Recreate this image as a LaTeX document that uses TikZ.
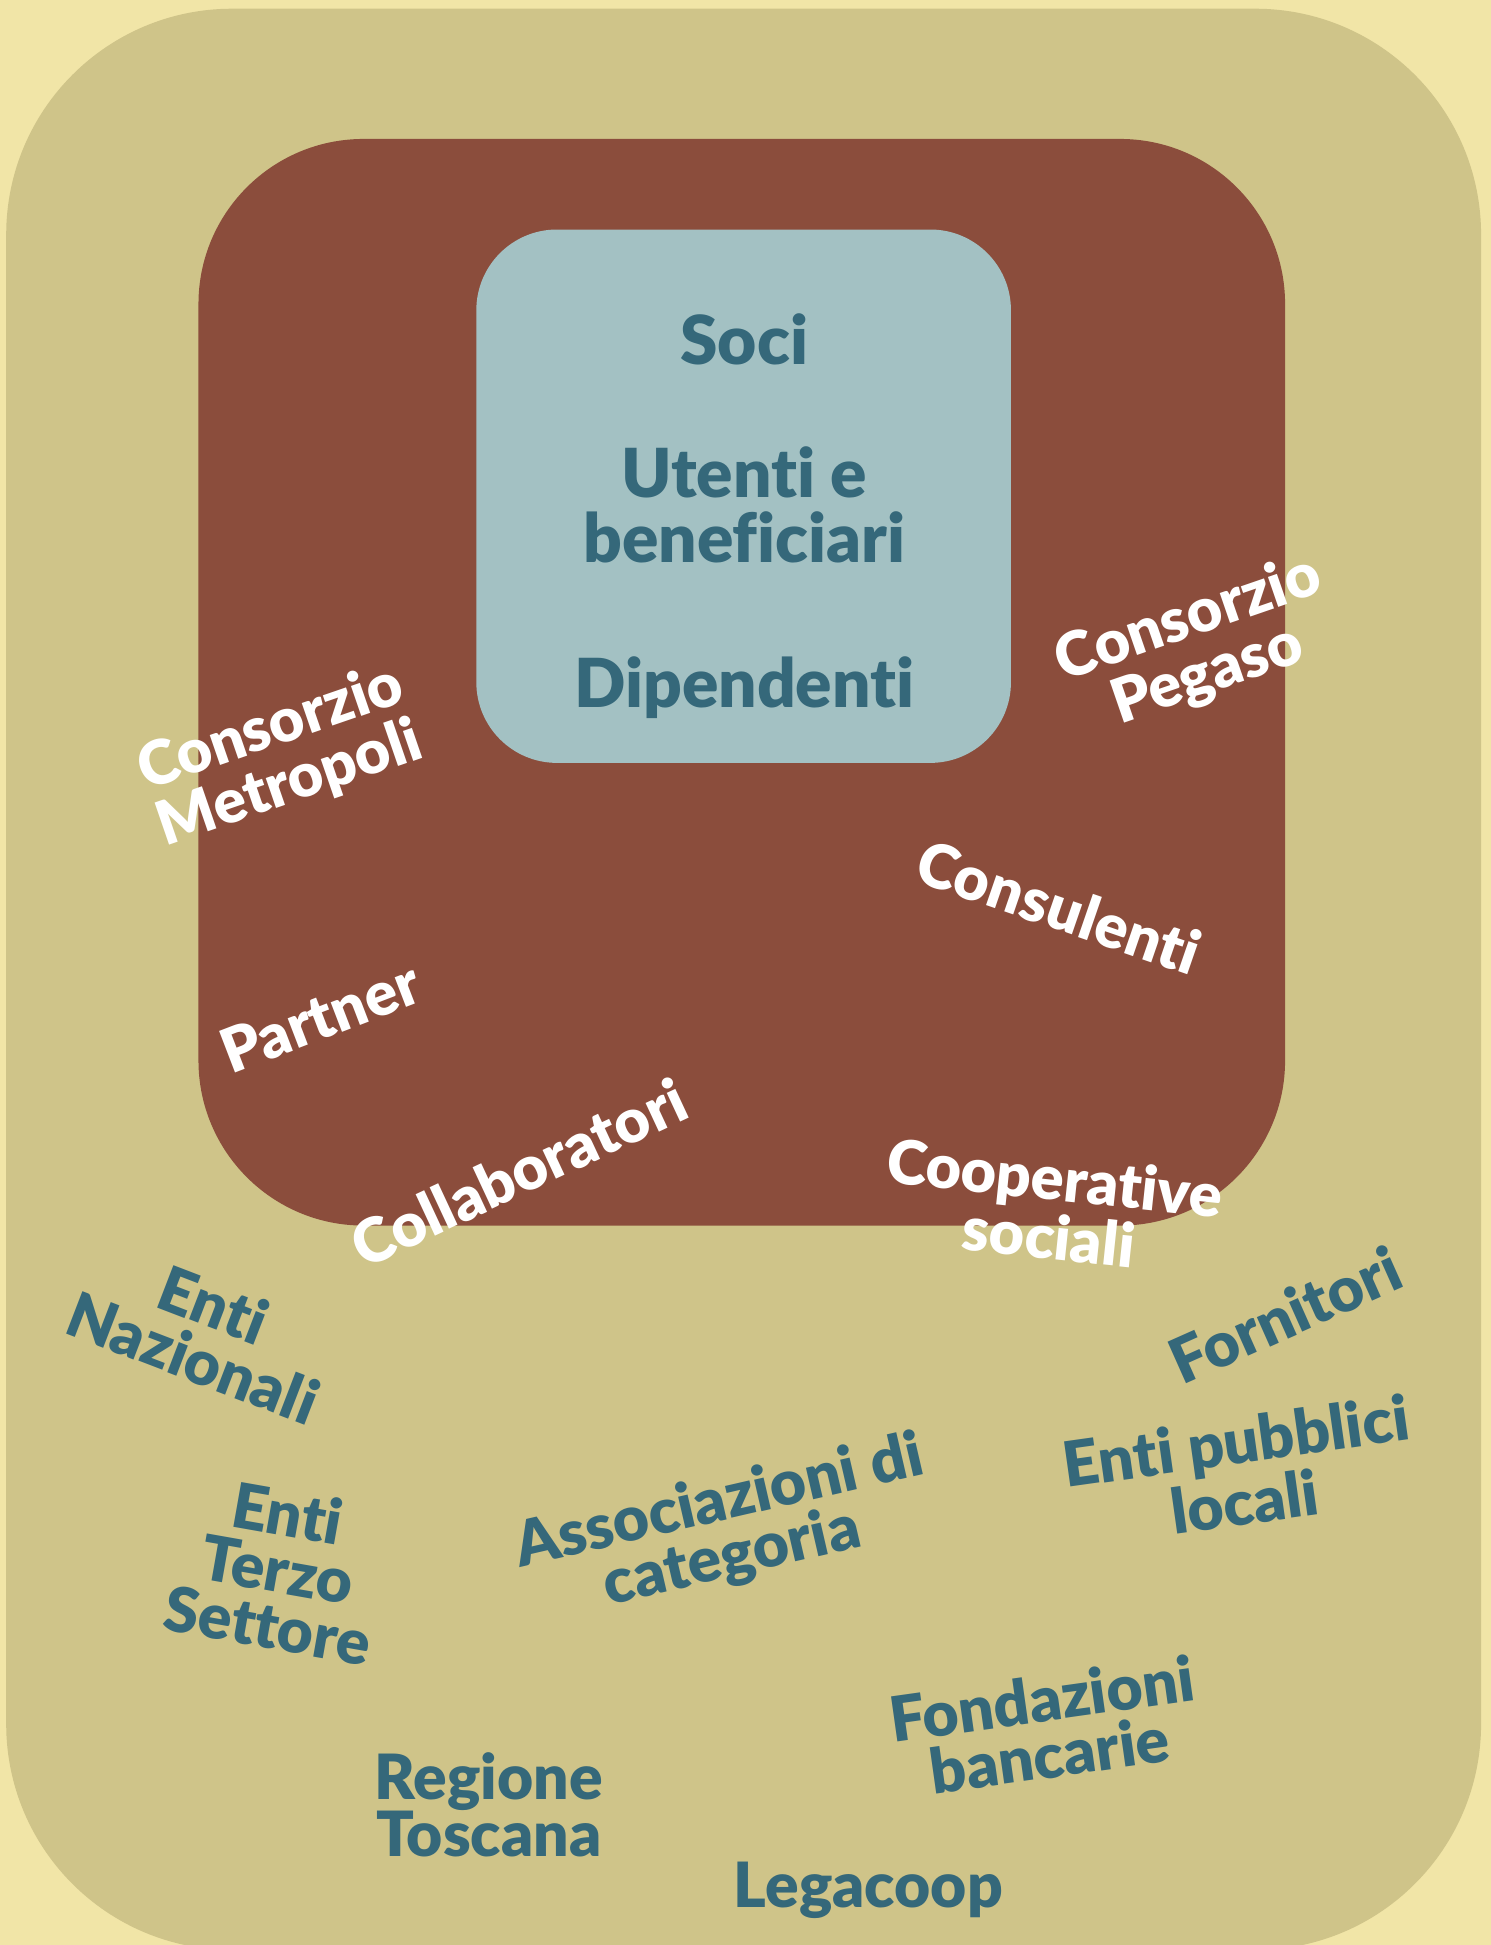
\documentclass[tikz,border=0pt]{standalone}
\usepackage{fontspec}
\setmainfont{Lato}[BoldFont={* Black},Ligatures={NoCommon}]
\usepackage{tikz}

\definecolor{cream}{HTML}{F1E5A7}
\definecolor{sand}{HTML}{CFC489}
\definecolor{brick}{HTML}{8B4D3C}
\definecolor{pale}{HTML}{A3C1C3}
\definecolor{slate}{HTML}{35687A}

\begin{document}
\begin{tikzpicture}[x=0.01cm,y=-0.01cm,
	core/.style={text=slate,font=\fontsize{15.5}{15}\selectfont\bfseries,align=center},
	inner/.style={text=white,font=\fontsize{14}{13.5}\selectfont\bfseries,align=center},
	outer/.style={text=slate,font=\fontsize{14.3}{13}\selectfont\bfseries,align=center}]
	\clip (0,0) rectangle (1202,1568);
	\fill[cream] (0,0) rectangle (1202,1568);
	\fill[sand, rounded corners=1.82cm] (5,7) rectangle (1194,1572);
	\fill[brick, rounded corners=1.33cm] (160,112) rectangle (1036,988);
	\fill[pale, rounded corners=0.65cm] (384,185) rectangle (815,615);
	
	\node[core, anchor=base] (soci) at (600,294) {Soci};
	\node[core] (utenti) at (600,407) {Utenti e\\beneficiari};
	\node[core, anchor=base] (dipendenti) at (600,570) {Dipendenti};
	
	\node[inner, rotate=19]  (metropoli)     at (226,610)  {Consorzio\\Metropoli};
	\node[inner, rotate=19]  (pegaso)        at (966,522)  {Consorzio\\Pegaso};
	\node[inner, rotate=-19] (consulenti)    at (854,731)  {Consulenti};
	\node[inner, rotate=21]  (partner)       at (258,820)  {Partner};
	\node[inner, rotate=25]  (collaboratori) at (418,945)  {Collaboratori};
	\node[inner, rotate=-6]  (cooperative)   at (848,973)  {Cooperative\\sociali};
	
	\node[outer, rotate=-21] (nazionali)     at (164,1073) {Enti\\Nazionali};
	\node[outer, rotate=24]  (fornitori)     at (1036,1060) {Fornitori};
	\node[outer, rotate=8]   (pubblici)      at (1000,1186) {Enti pubblici\\locali};
	\node[outer, rotate=-10] (terzo)         at (224,1265) {Enti\\Terzo\\Settore};
	\node[outer, rotate=13]  (associazioni)  at (585,1234) {Associazioni di\\categoria};
	\node[outer, rotate=8]   (fondazioni)    at (843,1392) {Fondazioni\\bancarie};
	\node[outer]             (regione)       at (394,1455) {Regione\\Toscana};
	\node[outer]             (legacoop)      at (700,1524) {Legacoop};
\end{tikzpicture}
\end{document}
